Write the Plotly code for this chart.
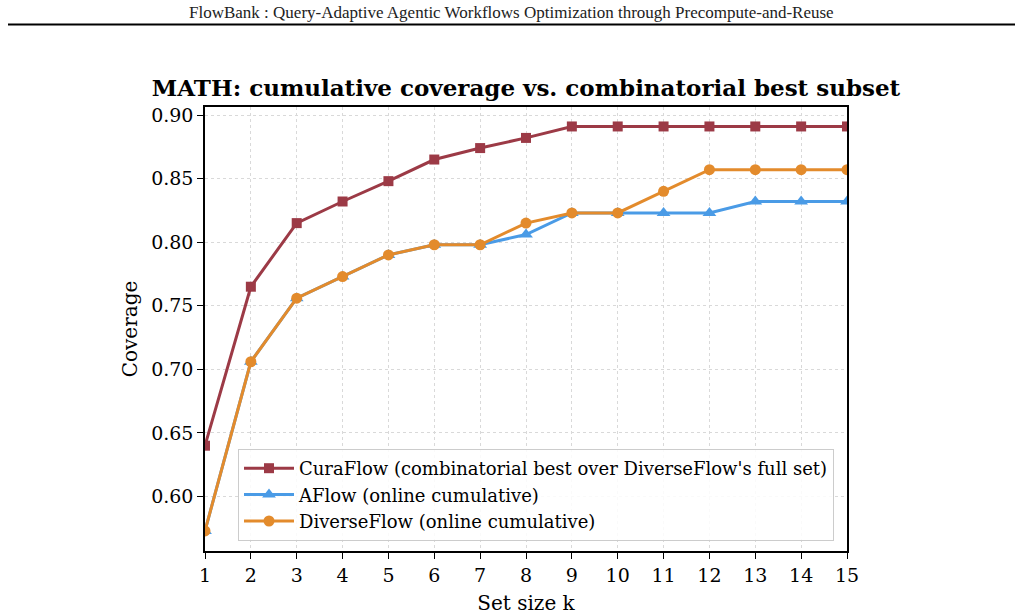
import plotly.graph_objects as go

k = list(range(1, 16))
curaflow = [0.640, 0.765, 0.815, 0.832, 0.848, 0.865, 0.874, 0.882, 0.891, 0.891, 0.891, 0.891, 0.891, 0.891, 0.891]
aflow = [0.573, 0.706, 0.756, 0.773, 0.790, 0.798, 0.798, 0.806, 0.823, 0.823, 0.823, 0.823, 0.832, 0.832, 0.832]
diverseflow = [0.573, 0.706, 0.756, 0.773, 0.790, 0.798, 0.798, 0.815, 0.823, 0.823, 0.840, 0.857, 0.857, 0.857, 0.857]
y_ticks = [0.60, 0.65, 0.70, 0.75, 0.80, 0.85, 0.90]

names = ["CuraFlow (combinatorial best over DiverseFlow's full set)",
         "AFlow (online cumulative)",
         "DiverseFlow (online cumulative)"]
colors = ["#9c3a46", "#4a9be6", "#e38b2c"]
symbols = ["square", "triangle-up", "circle"]
sizes = [10, 12, 11]
series = [curaflow, aflow, diverseflow]

FONT = "DejaVu Serif"
fig = go.Figure()
for name, vals, col, sym, sz in zip(names, series, colors, symbols, sizes):
    fig.add_trace(go.Scatter(
        x=k, y=vals, name=name, mode="lines+markers",
        line=dict(color=col, width=3),
        marker=dict(symbol=sym, size=sz, color=col),
    ))

W, H = 1022, 616
L, R, T, B = 205, 847, 107, 551
pw, ph = R - L, B - T

def px2paper_x(px):
    return (px - L) / pw

def px2paper_y(py):
    return (B - py) / ph

fig.update_layout(
    width=W, height=H,
    margin=dict(l=L, r=W - R, t=T, b=H - B, autoexpand=False),
    paper_bgcolor="white", plot_bgcolor="white",
    font=dict(family=FONT, color="black", size=19),
    title=dict(text="<b>MATH: cumulative coverage vs. combinatorial best subset</b>",
               x=(L + R) / 2 / W, xanchor="center",
               y=1 - 88 / H, yanchor="middle", yref="container",
               font=dict(family=FONT, size=23, color="black")),
    showlegend=True,
    legend=dict(x=px2paper_x(238), y=px2paper_y(541), xanchor="left", yanchor="bottom",
                bgcolor="rgba(255,255,255,0.85)", bordercolor="#cccccc", borderwidth=1,
                font=dict(family=FONT, size=18), tracegroupgap=0, itemwidth=50),
)
fig.update_xaxes(
    range=[1, 15], tickmode="array", tickvals=k, ticktext=[str(v) for v in k],
    showline=True, linecolor="black", linewidth=1.5, mirror=True,
    ticks="outside", ticklen=6, tickwidth=1.2, tickcolor="black",
    showgrid=True, gridcolor="#d9d9d9", griddash="dot", gridwidth=1,
    zeroline=False, automargin=False,
    title=dict(text="Set size k", font=dict(family=FONT, size=20), standoff=11),
    tickfont=dict(family=FONT, size=19),
)
fig.update_yaxes(
    range=[0.5572, 0.9063], tickmode="array", tickvals=y_ticks,
    ticktext=[f"{v:.2f}" for v in y_ticks],
    showline=True, linecolor="black", linewidth=1.5, mirror=True,
    ticks="outside", ticklen=6, tickwidth=1.2, tickcolor="black",
    showgrid=True, gridcolor="#d9d9d9", griddash="dot", gridwidth=1,
    zeroline=False, automargin=False,
    title=dict(text="Coverage", font=dict(family=FONT, size=20), standoff=8),
    tickfont=dict(family=FONT, size=19),
)

# Page header
fig.add_annotation(
    text="FlowBank : Query-Adaptive Agentic Workflows Optimization through Precompute-and-Reuse",
    xref="paper", yref="paper", x=px2paper_x(511), y=px2paper_y(12),
    xanchor="center", yanchor="middle", showarrow=False,
    font=dict(family="Liberation Serif", size=17, color="#222222"),
)
fig.add_shape(type="line", xref="paper", yref="paper",
              x0=px2paper_x(8), x1=px2paper_x(1015), y0=px2paper_y(24.5), y1=px2paper_y(24.5),
              line=dict(color="black", width=2))

fig.write_html("out.html")
